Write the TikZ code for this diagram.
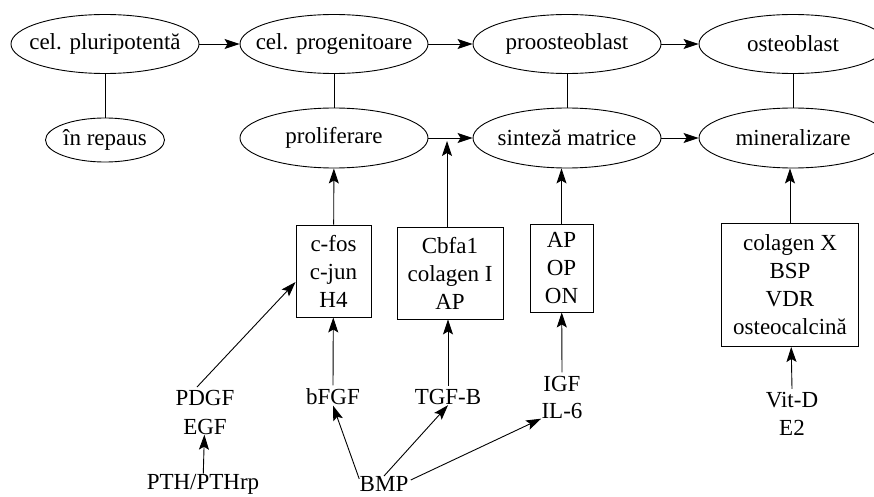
\documentclass[tikz,border=0pt]{standalone}
\usepackage{fontspec}
\setmainfont{Liberation Serif}
\usetikzlibrary{shapes,arrows.meta}

\begin{document}
\begin{tikzpicture}[x=1pt,y=-1pt,line width=0.9pt,font=\fontsize{23}{28}\selectfont,
  elli/.style={ellipse,draw,minimum width=188pt,minimum height=59pt,inner xsep=-14pt,inner ysep=0pt},
  bx/.style={draw,align=center,inner sep=0pt},
  lbl/.style={align=center,inner sep=0pt},
  >={Stealth[length=15pt,width=10pt,inset=3pt]}]
  \useasboundingbox (0,0) rectangle (874,497);
  \clip (0,0) rectangle (874,497);
  % stadii celulare
  \node[elli] (pluri) at (105,44) {cel. pluripotentă};
  \node[elli] (progen) at (334,44) {cel. progenitoare};
  \node[elli] (proost) at (567,44) {proosteoblast};
  \node[elli] (osteob) at (793,44) {osteoblast};
  \node[elli,minimum width=119pt,minimum height=44pt] (repaus) at (105,140) {în repaus};
  \node[elli,minimum height=60pt] (prolif) at (334,138) {proliferare};
  \node[elli,minimum height=60pt] (sinteza) at (567,138) {sinteză matrice};
  \node[elli,minimum height=60pt] (mineral) at (793,138) {mineralizare};
  \draw[->] (pluri) -- (progen);
  \draw[->] (progen) -- (proost);
  \draw[->] (proost) -- (osteob);
  \draw[->] (prolif) -- (sinteza);
  \draw[->] (sinteza) -- (mineral);
  \draw (pluri) -- (repaus);
  \draw (progen) -- (prolif);
  \draw (proost) -- (sinteza);
  \draw (osteob) -- (mineral);
  % gene exprimate
  \node[bx,minimum width=75pt,minimum height=92pt] (bfos) at (333.5,271) {c-fos\\c-jun\\H4};
  \node[bx,minimum width=106pt,minimum height=92pt] (bcbfa) at (450,273) {Cbfa1\\colagen I\\AP};
  \node[bx,minimum width=63pt,minimum height=88pt] (bap) at (561.5,268) {AP\\OP\\ON};
  \node[bx,minimum width=137pt,minimum height=123pt] (bcolx) at (790,285) {colagen X\\BSP\\VDR\\osteocalcină};
  \coordinate (cbfa) at (447,141);
  \draw[->] (bfos) -- (prolif);
  \draw[->] (bcbfa.north -| cbfa) -- (cbfa);
  \draw[->] (bap.north) -- (bap.north |- sinteza.south);
  \draw[->] (bcolx.north) -- (bcolx.north |- mineral.south);
  % factori de crestere
  \node[lbl,font=\fontsize{23}{29}\selectfont] (pdgf) at (205,412) {PDGF\\EGF};
  \node[lbl] (pth) at (203,484) {PTH/PTHrp};
  \node[lbl] (bfgf) at (333,397) {bFGF};
  \node[lbl] (tgfb) at (448,397) {TGF-B};
  \node[lbl,font=\fontsize{23}{27}\selectfont] (igf) at (562,397) {IGF\\IL-6};
  \node[lbl] (bmp) at (384,484) {BMP};
  \node[lbl,font=\fontsize{23}{28}\selectfont] (vitd) at (792,414) {Vit-D\\E2};
  \draw[->] (197,387) -- (bfos.west |- 0,282);
  \draw[->] (pth) -- (pdgf);
  \draw[->] (bfgf.north) ++(0,-3) -- (bfos);
  \draw[->] (tgfb.north) ++(0,-3) -- (bcbfa.south -| tgfb);
  \draw[->] (igf.north) ++(0,-3) -- (bap);
  \draw[->] (vitd.north) ++(0,-3) -- (bcolx);
  \draw[->] (bmp.north west) ++(0,3) -- (bfgf.south);
  \draw[->] (bmp.north) -- (tgfb.south);
  \draw[->] (bmp.north east) ++(2,4) -- (igf.south west);
\end{tikzpicture}
\end{document}
